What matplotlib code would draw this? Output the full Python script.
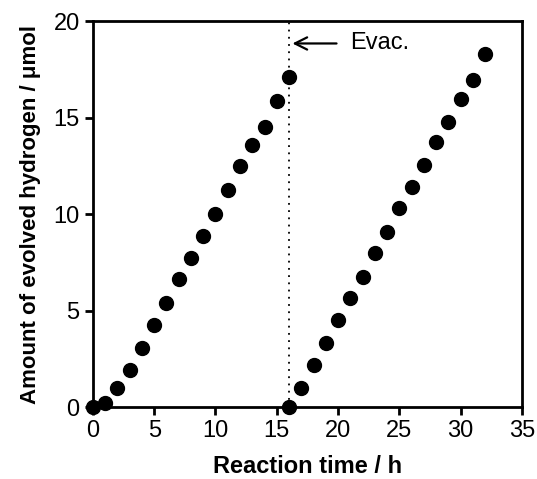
import matplotlib.pyplot as plt

# reaction time (h) and evolved H2 (umol), two runs separated by evacuation
time_run1 = [0, 1, 2, 3, 4, 5, 6, 7, 8, 9, 10, 11, 12, 13, 14, 15, 16]
h2_run1 = [0.0, 0.19, 0.97, 1.93, 3.09, 4.28, 5.39, 6.63, 7.75, 8.88,
           10.03, 11.24, 12.49, 13.6, 14.5, 15.87, 17.08]
time_run2 = [16, 17, 18, 19, 20, 21, 22, 23, 24, 25, 26, 27, 28, 29, 30, 31, 32]
h2_run2 = [0.0, 0.98, 2.16, 3.33, 4.5, 5.63, 6.75, 8.0, 9.08, 10.3,
           11.41, 12.57, 13.71, 14.78, 15.94, 16.94, 18.27]
evac_time = 16

plt.rcParams['font.family'] = ['Liberation Sans', 'DejaVu Sans']

fig = plt.figure(figsize=(5.37, 4.79), dpi=100)
ax = fig.add_axes([0.173, 0.150, 0.799, 0.806])

ax.plot([evac_time, evac_time], [0, 20], color="black", linestyle=(0, (1, 3)),
        linewidth=1.3, zorder=1)
for t, h in [(time_run1, h2_run1), (time_run2, h2_run2)]:
    ax.plot(t, h, linestyle="none", marker="o", markersize=10,
            color="black", clip_on=False, zorder=3)

ax.annotate("", xy=(evac_time + 0.05, 18.84), xytext=(20.1, 18.84),
            arrowprops=dict(arrowstyle="->", color="black", linewidth=1.6,
                            mutation_scale=22))
ax.text(21.0, 18.84, "Evac.", fontsize=17, va="center", ha="left")

ax.set_xlim(0, 35)
ax.set_ylim(0, 20)
ax.set_xticks(range(0, 36, 5))
ax.set_yticks(range(0, 21, 5))
ax.set_xlabel("Reaction time / h", fontsize=17, fontweight="bold", labelpad=9)
ax.set_ylabel("Amount of evolved hydrogen / μmol", fontsize=16,
              fontweight="bold", labelpad=9)

ax.tick_params(axis='both', which='major', labelsize=17, width=2,
               length=6, direction='out', top=False, right=False)
for side in ['bottom', 'left', 'right', 'top']:
    ax.spines[side].set_linewidth(2)

plt.savefig("out.png", dpi=100)
